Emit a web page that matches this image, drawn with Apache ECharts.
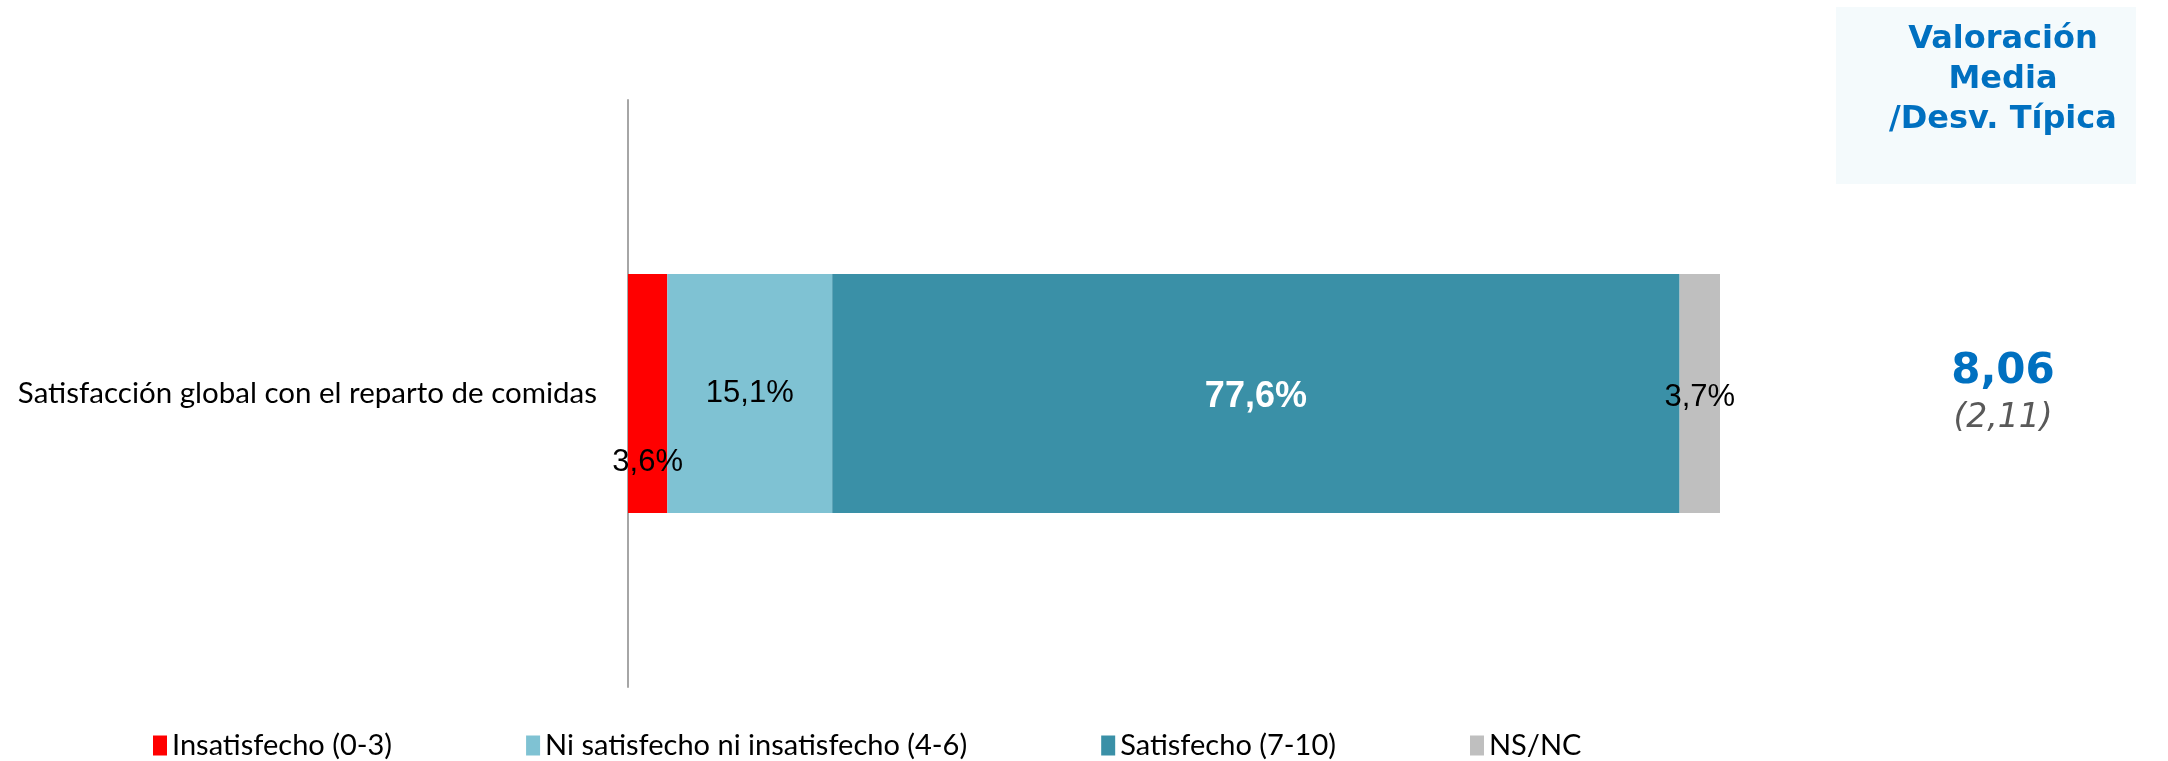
<!DOCTYPE html>
<html>
<head>
<meta charset="utf-8">
<script src="https://cdn.jsdelivr.net/npm/echarts@6/dist/echarts.min.js"></script>
<style>
  html, body { margin: 0; padding: 0; background: #fff; }
  #chart { width: 2168px; height: 761px; }
</style>
</head>
<body>
<div id="chart"></div>
<script>
// datos
const categories = ['Satisfacción global con el reparto de comidas'];
const seriesNames = ['Insatisfecho (0-3)', 'Ni satisfecho ni insatisfecho (4-6)', 'Satisfecho (7-10)', 'NS/NC'];
const insatisfecho = [3.6];
const neutro = [15.1];
const satisfecho = [77.6];
const nsnc = [3.7];
const colors = ['#FF0000', '#7FC2D3', '#3A90A7', '#BFBFBF'];
const mediaTitle = 'Valoración\nMedia\n/Desv. Típica';
const media = ['8,06'];
const desviacion = ['(2,11)'];

const fmt = p => p.value.toFixed(1).replace('.', ',') + '%';

const myChart = echarts.init(document.getElementById('chart'));

const baseLabel = {
    show: true,
    position: 'inside',
    formatter: fmt,
    fontFamily: 'Liberation Sans, Arial',
    fontSize: 31,
    color: '#000'
};

const option = {
    animation: false,
    grid: { left: 628, right: 448, top: 100, bottom: 74 },
    xAxis: {
        type: 'value',
        min: 0,
        max: 100,
        show: false
    },
    yAxis: {
        type: 'category',
        data: categories,
        axisLine: { show: true, lineStyle: { color: '#A6A6A6', width: 2 } },
        axisTick: { show: false },
        axisLabel: {
            margin: 31,
            fontFamily: 'Lato',
            fontSize: 29.5,
            color: '#000'
        }
    },
    legend: {
        left: 148,
        top: 726,
        itemGap: 134,
        itemWidth: 14,
        itemHeight: 20,
        icon: 'rect',
        textStyle: { fontFamily: 'Lato', fontSize: 29, color: '#000' },
        data: seriesNames
    },
    series: [
        {
            name: seriesNames[0], type: 'bar', stack: 'total', barWidth: '40.7%',
            data: insatisfecho, itemStyle: { color: colors[0] },
            label: Object.assign({}, baseLabel, { offset: [0, 69] })
        },
        {
            name: seriesNames[1], type: 'bar', stack: 'total',
            data: neutro, itemStyle: { color: colors[1] },
            label: baseLabel
        },
        {
            name: seriesNames[2], type: 'bar', stack: 'total',
            data: satisfecho, itemStyle: { color: colors[2] },
            label: Object.assign({}, baseLabel, { color: '#fff', fontWeight: 'bold', fontSize: 36, offset: [0, 4] })
        },
        {
            name: seriesNames[3], type: 'bar', stack: 'total',
            data: nsnc, itemStyle: { color: colors[3] },
            label: Object.assign({}, baseLabel, { offset: [0, 4] })
        }
    ],
    graphic: [
        {
            type: 'rect',
            shape: { x: 1836, y: 7, width: 300, height: 177 },
            style: { fill: '#F4FAFC' }
        },
        {
            type: 'text',
            x: 2003, y: 80,
            style: {
                text: mediaTitle,
                fontFamily: 'DejaVu Sans',
                fontWeight: 'bold',
                fontSize: 32,
                lineHeight: 40,
                fill: '#0070C0',
                align: 'center',
                verticalAlign: 'middle'
            }
        },
        {
            type: 'text',
            x: 2003, y: 372,
            style: {
                text: media[0],
                fontFamily: 'DejaVu Sans',
                fontWeight: 'bold',
                fontSize: 42,
                fill: '#0070C0',
                align: 'center',
                verticalAlign: 'middle'
            }
        },
        {
            type: 'text',
            x: 2003, y: 418,
            style: {
                text: desviacion[0],
                fontFamily: 'DejaVu Sans',
                fontStyle: 'italic',
                fontSize: 33,
                fill: '#595959',
                align: 'center',
                verticalAlign: 'middle'
            }
        }
    ]
};

myChart.setOption(option);
</script>
</body>
</html>
